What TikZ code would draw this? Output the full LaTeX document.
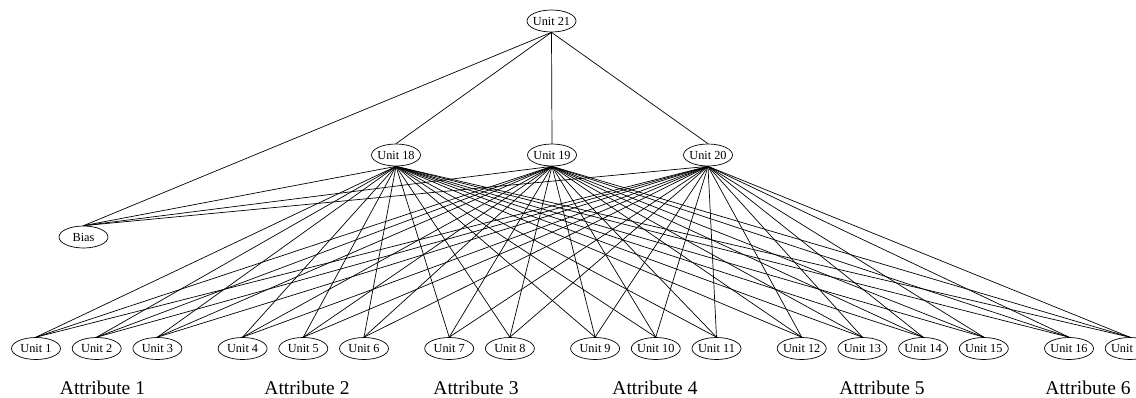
\documentclass[tikz,border=0pt]{standalone}
\usepackage{fontspec}
\setmainfont{Liberation Serif}
\usepackage{tikz}
\usetikzlibrary{positioning,shapes.geometric}
\newcommand{\nlab}[1]{\makebox[0pt]{#1}}

\begin{document}
\begin{tikzpicture}[x=1pt, y=-1pt,
  unit/.style={ellipse, draw, line width=0.7pt, inner sep=0pt,
               minimum width=49pt, minimum height=22pt,
               font=\fontsize{12.3}{14}\selectfont},
  attr/.style={anchor=base, font=\fontsize{19.5}{22}\selectfont},
  wire/.style={line width=0.7pt}]
  \useasboundingbox (0,0) rectangle (1136,397);
  % output and hidden layer
  \node[unit] (u21)  at (551.5,21)  {\nlab{Unit 21}};
  \node[unit] (u19)  at (552,155)   {\nlab{Unit 19}};
  \node[unit] (u18)  at (396,155)   {\nlab{Unit 18}};
  \node[unit] (u20)  at (708,155)   {\nlab{Unit 20}};
  \node[unit] (bias) at (83.5,237)  {\nlab{Bias}};
  % input units
  \node[unit]                      (u1)  at (36,348.5) {\nlab{Unit 1}};
  \node[unit, right=11pt of u1]    (u2)  {\nlab{Unit 2}};
  \node[unit, right=11pt of u2]    (u3)  {\nlab{Unit 3}};
  \node[unit, right=35.5pt of u3]  (u4)  {\nlab{Unit 4}};
  \node[unit, right=11pt of u4]    (u5)  {\nlab{Unit 5}};
  \node[unit, right=11pt of u5]    (u6)  {\nlab{Unit 6}};
  \node[unit, right=35.5pt of u6]  (u7)  {\nlab{Unit 7}};
  \node[unit, right=11pt of u7]    (u8)  {\nlab{Unit 8}};
  \node[unit, right=35.5pt of u8]  (u9)  {\nlab{Unit 9}};
  \node[unit, right=11pt of u9]    (u10) {\nlab{Unit 10}};
  \node[unit, right=11pt of u10]   (u11) {\nlab{Unit 11}};
  \node[unit, right=35.5pt of u11] (u12) {\nlab{Unit 12}};
  \node[unit, right=11pt of u12]   (u13) {\nlab{Unit 13}};
  \node[unit, right=11pt of u13]   (u14) {\nlab{Unit 14}};
  \node[unit, right=11pt of u14]   (u15) {\nlab{Unit 15}};
  \node[unit, right=35.5pt of u15] (u16) {\nlab{Unit 16}};
  \node[unit, right=11pt of u16]   (u17) {\nlab{Unit 17}};
  % attribute labels
  \node[attr] (a1) at (102.5,394.5) {Attribute 1};
  \node[attr] (a2) at (307,394.5)   {Attribute 2};
  \node[attr] (a3) at (476,394.5)   {Attribute 3};
  \node[attr] (a4) at (655,394.5)   {Attribute 4};
  \node[attr] (a5) at (882,394.5)   {Attribute 5};
  \node[attr] (a6) at (1088,394.5)  {Attribute 6};
  % connections
  \foreach \c in {u18,u19,u20,bias}
    {\draw[wire] (u21.south) -- (\c.north);}
  \foreach \p in {u18,u19,u20}
    \foreach \c in {bias,u1,u2,u3,u4,u5,u6,u7,u8,u9,u10,u11,u12,u13,u14,u15,u16,u17}
      {\draw[wire] (\p.south) -- (\c.north);}
\end{tikzpicture}
\end{document}
